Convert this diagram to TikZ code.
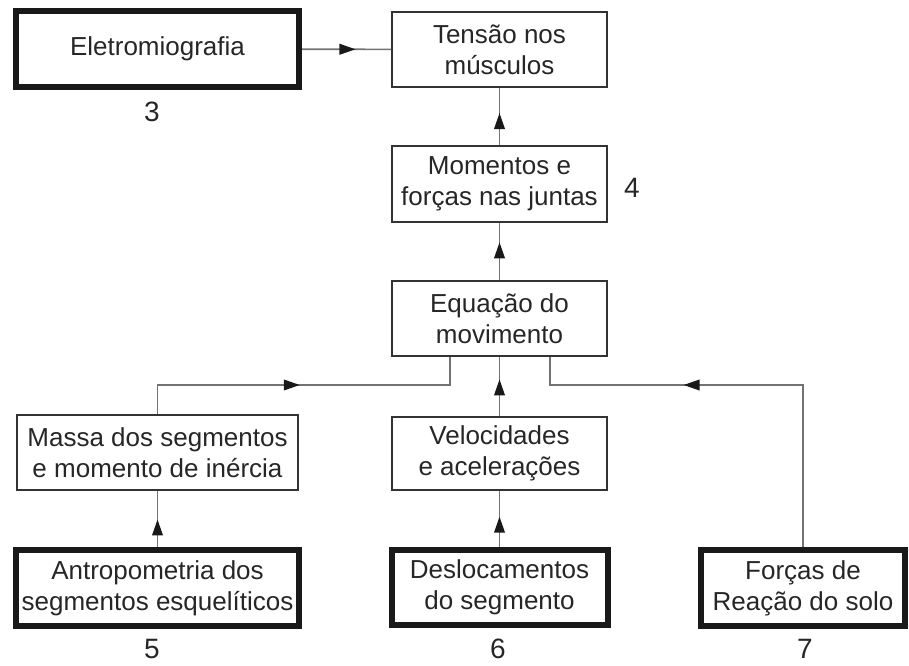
\documentclass[tikz,border=0pt]{standalone}
\usepackage{fontspec}
\setmainfont{Liberation Sans}
\usetikzlibrary{arrows.meta, decorations.markings}

\tikzset{
  caixa/.style={draw=black!80, line width=1.3pt, align=center, inner sep=0pt,
    font=\fontsize{19.5}{23}\selectfont, text=black!85},
  caixagrossa/.style={caixa, draw=black!90, line width=4.5pt},
  conector/.style={draw=black!55, line width=1.2pt},
  seta/.style={postaction={decorate}, decoration={markings,
    mark=at position #1 with {\arrow{Triangle[length=12pt, width=8pt, color=black!90]}}}},
  numero/.style={font=\fontsize{21}{24}\selectfont, text=black!85}
}

\begin{document}
\begin{tikzpicture}[x=0.75pt, y=-0.75pt]
    \useasboundingbox (0,0) rectangle (909,666);

    % coluna central
    \node[caixa, minimum width=161.25pt, minimum height=56.25pt] (tensao) at (499.5,49.5) {Tensão nos\\músculos};
    \node[caixa, minimum width=161.25pt, minimum height=57pt] (momentos) at (499.5,184) {Momentos e\\forças nas juntas};
    \node[caixa, minimum width=161.25pt, minimum height=56.25pt] (equacao) at (499.5,318.5) {Equação do\\movimento};
    \node[caixa, minimum width=161.25pt, minimum height=54.75pt] (veloc) at (499.5,453.5) {Velocidades\\e acelerações};
    \node[caixa, minimum width=210.75pt, minimum height=56.25pt] (massa) at (157.5,452.5) {Massa dos segmentos\\e momento de inércia};

    % caixas de medida (borda grossa)
    \node[caixagrossa, minimum width=212.25pt, minimum height=57pt] (eletro) at (157.5,49) {Eletromiografia};
    \node[caixagrossa, minimum width=212.25pt, minimum height=57pt] (antropo) at (157.5,588) {Antropometria dos\\segmentos esquelíticos};
    \node[caixagrossa, minimum width=162pt, minimum height=56.25pt] (desloc) at (499.5,587.5) {Deslocamentos\\do segmento};
    \node[caixagrossa, minimum width=153pt, minimum height=57pt] (forcas) at (803,588) {Forças de\\Reação do solo};

    % numeros
    \node[numero] (n3) at (152,112) {3};
    \node[numero] (n4) at (632,188) {4};
    \node[numero] (n5) at (152,649) {5};
    \node[numero] (n6) at (498,649) {6};
    \node[numero] (n7) at (805,649) {7};

    % pontos de ramificacao
    \coordinate (ramoE) at (450,385);
    \coordinate (ramoD) at (550,385);

    % ligacoes
    \draw[conector, seta=0.6] (eletro) -- (tensao);
    \draw[conector, seta=0.56] (momentos) -- (tensao);
    \draw[conector, seta=0.66] (equacao) -- (momentos);
    \draw[conector, seta=0.62] (veloc) -- (equacao);
    \draw[conector, seta=0.49] (massa.north) |- (ramoE) -- (ramoE |- equacao.south);
    \draw[conector, seta=0.635] (forcas.north) |- (ramoD) -- (ramoD |- equacao.south);
    \draw[conector, seta=0.49] (antropo) -- (massa);
    \draw[conector, seta=0.54] (desloc) -- (veloc);
\end{tikzpicture}
\end{document}
